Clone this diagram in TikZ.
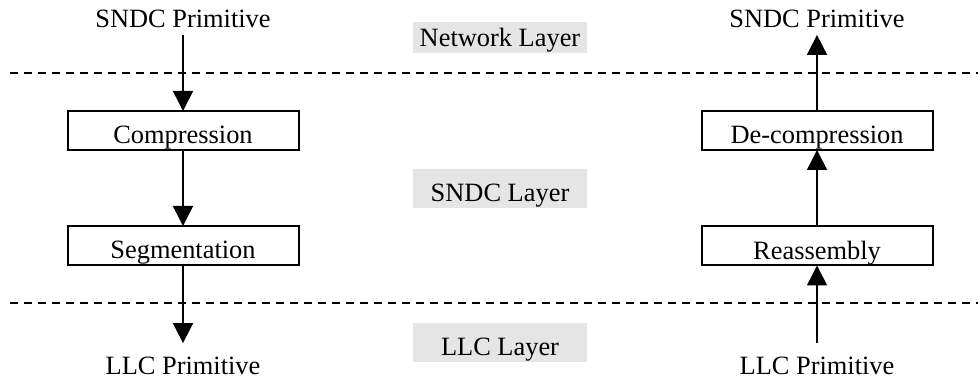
\documentclass[tikz,border=0pt]{standalone}
\usepackage{fontspec}
\setmainfont{Liberation Serif}
\usetikzlibrary{arrows.meta}
\begin{document}
\begin{tikzpicture}[x=0.5pt, y=-0.5pt, font=\fontsize{13.2}{15}\selectfont, every node/.style={inner sep=0pt, outer sep=0pt}, stage/.style={draw, line width=1pt, minimum width=115.5pt, minimum height=19.5pt, text height=13.5pt, text depth=0pt}, layer/.style={fill=black!10, minimum width=87pt, minimum height=19.5pt, text height=13.5pt, text depth=0pt}, flow/.style={line width=0.8pt, -{Triangle[width=10pt, length=10pt]}}, border/.style={line width=0.8pt, dash pattern=on 4pt off 3pt}]
        \useasboundingbox (0,0) rectangle (978,378);
        % layer borders
        \coordinate (topL) at (10, 73);
        \coordinate (topR) at (978, 73);
        \coordinate (botL) at (10, 303);
        \coordinate (botR) at (978, 303);
        \draw[border] (topL) -- (topR);
        \draw[border] (botL) -- (botR);
        % layer names
        \node[layer, minimum height=15.5pt, text height=9.5pt] (netlayer) at (500, 37.5) {Network Layer};
        \node[layer] (sndclayer) at (500, 188.5) {SNDC Layer};
        \node[layer] (llclayer) at (500, 342.5) {LLC Layer};
        % sending side
        \node (sndcsend) at (183, 19) {SNDC Primitive};
        \node[stage] (compress) at (183, 130.5) {Compression};
        \node[stage] (segment) at (183, 245.5) {Segmentation};
        \node (llcsend) at (183, 366) {LLC Primitive};
        \draw[flow, shorten <=3.5pt] (sndcsend) -- (compress);
        \draw[flow] (compress) -- (segment);
        \draw[flow, shorten >=7pt] (segment) -- (llcsend);
        % receiving side
        \node (sndcrecv) at (817, 19) {SNDC Primitive};
        \node[stage] (decompress) at (817, 130.5) {De-compression};
        \node[stage] (reassemble) at (817, 246) {Reassembly};
        \node (llcrecv) at (817, 366) {LLC Primitive};
        \draw[flow, shorten <=7pt] (llcrecv) -- (reassemble);
        \draw[flow] (reassemble) -- (decompress);
        \draw[flow, shorten >=3.5pt] (decompress) -- (sndcrecv);
    \end{tikzpicture}
\end{document}
